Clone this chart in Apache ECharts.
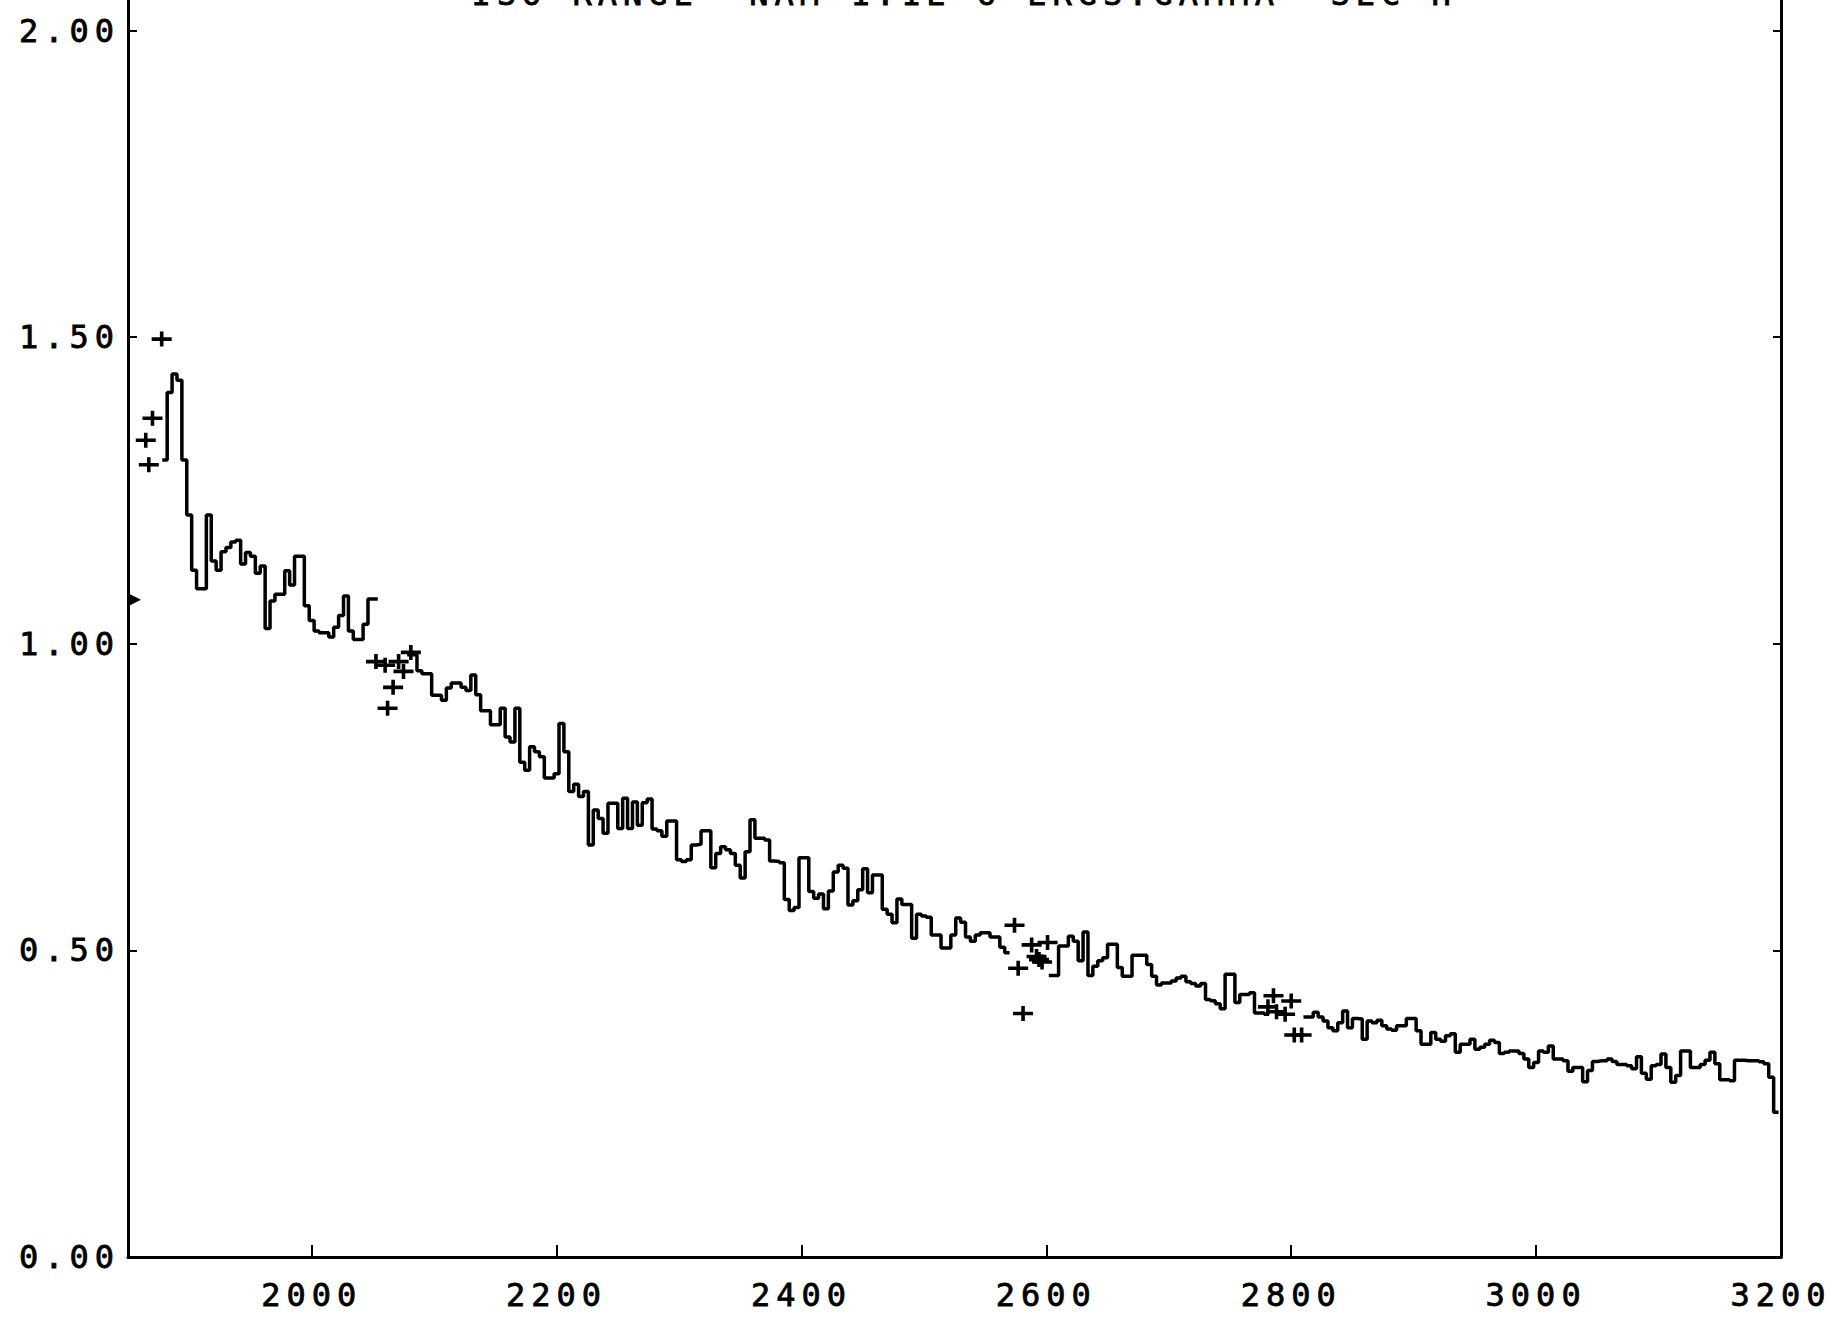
<!DOCTYPE html>
<html>
<head>
<meta charset="utf-8">
<title>Spectrum</title>
<script src="https://cdn.jsdelivr.net/npm/echarts@6/dist/echarts.min.js"></script>
<style>
  html, body { margin: 0; padding: 0; background: #fff; }
  #chart { width: 1830px; height: 1318px; }
  /* plotter-style lettering: wide character pitch, slashed zeros */
  #chart text { letter-spacing: 6px; font-variant-numeric: slashed-zero; }
</style>
</head>
<body>
<div id="chart"></div>
<script>
// Histogram in 4-unit bins starting at 1878; null = bin without data
const binStart = 1878;
const binWidth = 4;
const counts = [
  // 1878 - 2054
  1.30, 1.41, 1.44, 1.43, 1.30, 1.21, 1.12, 1.09, 1.09, 1.21, 1.135, 1.12, 1.15, 1.157, 1.166, 1.169,
  1.13, 1.149, 1.143, 1.115, 1.127, 1.025, 1.07, 1.081, 1.081, 1.119, 1.096, 1.143, 1.143, 1.062,
  1.038, 1.021, 1.018, 1.018, 1.011, 1.027, 1.046, 1.078, 1.021, 1.007, 1.007, 1.032, 1.073, 1.073,
  null, null, null, null, null, null,
  // 2078 - 2570
  0.982, 0.982, 0.956, 0.951, 0.951, 0.916, 0.916, 0.908, 0.928, 0.936, 0.936, 0.929, 0.924, 0.949,
  0.917, 0.891, 0.891, 0.868, 0.868, 0.895, 0.848, 0.840, 0.895, 0.807, 0.794, 0.832, 0.824, 0.816,
  0.781, 0.781, 0.788, 0.870, 0.824, 0.759, 0.771, 0.751, 0.759, 0.672, 0.729, 0.715, 0.691, 0.740,
  0.740, 0.699, 0.748, 0.699, 0.742,
  0.704, 0.741, 0.747, 0.698, 0.695, 0.686, 0.711, 0.711, 0.648, 0.645, 0.648, 0.672, 0.673, 0.695,
  0.695, 0.635, 0.658, 0.669, 0.664, 0.658, 0.639, 0.618, 0.661, 0.713, 0.683, 0.683, 0.680, 0.646,
  0.645, 0.643, 0.583, 0.565, 0.570, 0.651, 0.651, 0.596, 0.585, 0.592, 0.568, 0.597, 0.628, 0.639,
  0.634, 0.574, 0.581, 0.599, 0.633, 0.594, 0.623, 0.623, 0.567, 0.559, 0.545,
  0.584, 0.575, 0.575, 0.520, 0.559, 0.556, 0.554, 0.525, 0.525, 0.504, 0.504, 0.525, 0.553, 0.546,
  0.522, 0.515, 0.525, 0.529, 0.529, 0.522, 0.522, 0.505, 0.496,
  null, null, null, null, null, null, null, null,
  // 2602 - 2782
  0.459, 0.459, 0.507, 0.507, 0.523, 0.515, 0.483, 0.530, 0.459, 0.474, 0.483, 0.488, 0.510, 0.510,
  0.472, 0.458, 0.458, 0.492, 0.492, 0.492, 0.477, 0.458, 0.4435, 0.447, 0.447, 0.450, 0.455, 0.458,
  0.449, 0.446, 0.442, 0.446, 0.420, 0.418, 0.413, 0.405, 0.461, 0.461, 0.415, 0.428, 0.428, 0.431,
  0.398, 0.398, 0.396,
  null, null, null, null, null, null, null,
  // 2810 - 3198
  0.3915, 0.3915, 0.399, 0.3915, 0.385, 0.374, 0.369, 0.382, 0.401, 0.374, 0.389, 0.388, 0.355, 0.385,
  0.382, 0.386, 0.377, 0.372, 0.370, 0.377, 0.377, 0.389, 0.389, 0.369, 0.347, 0.347, 0.366, 0.355,
  0.352, 0.361, 0.364, 0.334, 0.347, 0.347, 0.355, 0.339, 0.342, 0.347,
  0.3536, 0.350, 0.332, 0.334, 0.336, 0.336, 0.332, 0.323, 0.309, 0.317, 0.336, 0.334, 0.344, 0.323,
  0.323, 0.320, 0.303, 0.309, 0.309, 0.286, 0.304, 0.319, 0.320, 0.320, 0.323, 0.319, 0.314, 0.314,
  0.312, 0.307, 0.3265, 0.2995, 0.290, 0.312, 0.314, 0.331, 0.309, 0.285, 0.296, 0.336, 0.336, 0.309,
  0.309, 0.314, 0.321, 0.334, 0.315, 0.289, 0.289, 0.2875, 0.321, 0.321, 0.320, 0.320, 0.320, 0.3185,
  0.315, 0.293, 0.236
];

// Individual measurements drawn as crosses: [x, value]
const pointsX = [1877.5, 1870, 1864.5, 1867,
  2052.5, 2060, 2071, 2075, 2066.5, 2062, 2081,
  2574, 2588, 2601, 2577, 2592, 2596.5, 2594, 2581,
  2785.5, 2800, 2781, 2788, 2795, 2802.5, 2808.5];
const pointsY = [1.497, 1.368, 1.332, 1.292,
  0.971, 0.965, 0.971, 0.955, 0.929, 0.895, 0.986,
  0.541, 0.509, 0.513, 0.471, 0.490, 0.481, 0.485, 0.397,
  0.426, 0.4175, 0.408, 0.400, 0.396, 0.362, 0.362];

// Reference level flagged on the left axis
const refLevel = 1.072;

// Axis extents and tick values
const xMin = 1850, xMax = 3200;
const yMin = 0, yMax = 2.05;
const xTicks = [2000, 2200, 2400, 2600, 2800, 3000, 3200];
const yTicks = [0, 0.5, 1.0, 1.5, 2.0];

const headerText = 'ISO RANGE  NAM 1.1E 6 ERGS.GAMMA  SEC H';

// ---- build the step outline: left edge of each bin, plus the right edge closing each run
const histData = [];
counts.forEach((v, i) => {
  const x = binStart + i * binWidth;
  histData.push([x, v]);
  const next = counts[i + 1];
  if (v !== null && (next === null || next === undefined)) {
    histData.push([x + binWidth, v]);
  }
});
const pointData = pointsX.map((x, i) => [x, pointsY[i]]);

const FONT = '"DejaVu Sans Mono", "Liberation Mono", monospace';
const INK = '#000';
const crossPath = 'path://M8.2,0h3.6v5.7h8.2v3.6h-8.2v5.7h-3.6v-5.7h-8.2v-3.6h8.2z';

const chart = echarts.init(document.getElementById('chart'), null, { renderer: 'svg' });

const axisLineStyle = { color: INK, width: 3 };
const labelStyle = {
  fontFamily: FONT,
  fontSize: 32,
  color: INK,
  textBorderColor: INK,
  textBorderWidth: 0.8
};

chart.setOption({
  animation: false,
  backgroundColor: '#fff',
  grid: { left: 128, right: 49, top: -4.8, bottom: 61, containLabel: false },
  xAxis: {
    type: 'value',
    min: xMin,
    max: xMax,
    axisLine: { show: true, onZero: false, lineStyle: axisLineStyle },
    axisTick: { show: true, inside: true, length: 12, customValues: xTicks, lineStyle: { color: INK, width: 2 } },
    axisLabel: Object.assign({
      customValues: xTicks,
      margin: 22,
      formatter: v => String(v)
    }, labelStyle),
    splitLine: { show: false }
  },
  yAxis: [
    {
      type: 'value',
      min: yMin,
      max: yMax,
      position: 'left',
      axisLine: { show: true, lineStyle: axisLineStyle },
      axisTick: { show: true, inside: true, length: 9, customValues: yTicks, lineStyle: { color: INK, width: 2 } },
      axisLabel: Object.assign({
        customValues: yTicks,
        margin: 8,
        formatter: v => v.toFixed(2)
      }, labelStyle),
      splitLine: { show: false }
    },
    {
      type: 'value',
      min: yMin,
      max: yMax,
      position: 'right',
      axisLine: { show: true, lineStyle: axisLineStyle },
      axisTick: { show: true, inside: true, length: 8, customValues: yTicks, lineStyle: { color: INK, width: 2 } },
      axisLabel: { show: false },
      splitLine: { show: false }
    }
  ],
  graphic: [
    {
      type: 'text',
      left: 471,
      top: -22,
      silent: true,
      style: {
        text: headerText,
        font: '32px ' + FONT,
        fill: INK,
        stroke: INK,
        lineWidth: 0.8
      }
    }
  ],
  series: [
    {
      name: 'spectrum',
      type: 'line',
      step: 'end',
      data: histData,
      showSymbol: false,
      connectNulls: false,
      lineStyle: { color: INK, width: 3.5 },
      clip: true,
      z: 3
    },
    {
      name: 'points',
      type: 'scatter',
      data: pointData,
      symbol: crossPath,
      symbolSize: [20, 15],
      itemStyle: { color: INK, opacity: 1 },
      z: 4
    },
    {
      name: 'reference',
      type: 'scatter',
      data: [[xMin, refLevel]],
      symbol: 'path://M0,0L12,6L0,12Z',
      symbolSize: 12,
      symbolOffset: [7, 0],
      itemStyle: { color: INK, opacity: 1 },
      clip: false,
      z: 5
    }
  ]
});
</script>
</body>
</html>
